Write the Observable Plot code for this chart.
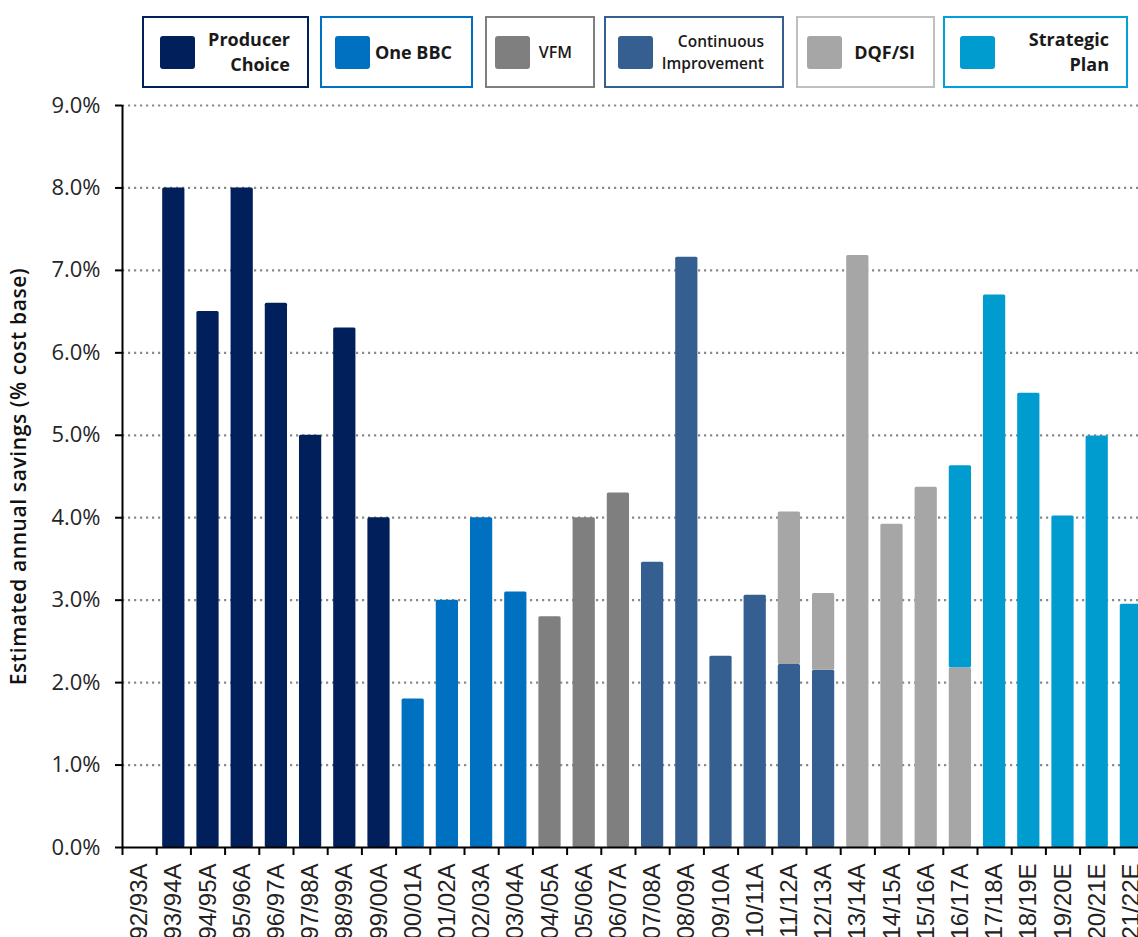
<!DOCTYPE html>
<html>
<head>
<meta charset="utf-8">
<script src="https://cdn.jsdelivr.net/npm/d3@7"></script>
<script src="https://cdn.jsdelivr.net/npm/@observablehq/plot@0.6"></script>
<style>
  body { margin: 0; background: #fff; overflow: hidden; }
  #legend { position: relative; width: 1138px; height: 90px; font-family: "Open Sans", sans-serif; }
  .box { position: absolute; top: 16px; height: 72px; box-sizing: border-box; border: 2px solid; display: flex; align-items: center; }
  .sw { width: 35px; height: 33px; border-radius: 3px; flex: none; }
  .lab { flex: 1; text-align: right; color: #1a1a1a; white-space: nowrap; }
  #chart svg { display: block; }
</style>
</head>
<body>
<div id="legend"></div>
<div id="chart"></div>
<script>
// ---- data ----
const years = ["92/93A","93/94A","94/95A","95/96A","96/97A","97/98A","98/99A","99/00A","00/01A","01/02A",
               "02/03A","03/04A","04/05A","05/06A","06/07A","07/08A","08/09A","09/10A","10/11A","11/12A",
               "12/13A","13/14A","14/15A","15/16A","16/17A","17/18A","18/19E","19/20E","20/21E","21/22E"];
const programmes = ["Producer Choice", "One BBC", "VFM", "Continuous Improvement", "DQF/SI", "Strategic Plan"];
const legendLabels = [["Producer", "Choice"], ["One BBC"], ["VFM"], ["Continuous", "Improvement"], ["DQF/SI"], ["Strategic", "Plan"]];
const programmeColours = ["#001F5B", "#0070C0", "#7F7F7F", "#365F91", "#A6A6A6", "#009BCF"];
const legendBorders = ["#001F5B", "#0070C0", "#7F7F7F", "#365F91", "#BFBFBF", "#00A0D8"];

// segment heights (% of cost base), aligned with years
const producerChoice        = [null,8.0,6.5,8.0,6.6,5.0,6.3,4.0,null,null, null,null,null,null,null,null,null,null,null,null, null,null,null,null,null,null,null,null,null,null];
const oneBBC                = [null,null,null,null,null,null,null,null,1.8,3.0, 4.0,3.1,null,null,null,null,null,null,null,null, null,null,null,null,null,null,null,null,null,null];
const vfm                   = [null,null,null,null,null,null,null,null,null,null, null,null,2.8,4.0,4.3,null,null,null,null,null, null,null,null,null,null,null,null,null,null,null];
const continuousImprovement = [null,null,null,null,null,null,null,null,null,null, null,null,null,null,null,3.46,7.16,2.32,3.06,2.22, 2.15,null,null,null,null,null,null,null,null,null];
const dqfSI                 = [null,null,null,null,null,null,null,null,null,null, null,null,null,null,null,null,null,null,null,1.85, 0.93,7.18,3.92,4.37,2.18,null,null,null,null,null];
const strategicPlan         = [null,null,null,null,null,null,null,null,null,null, null,null,null,null,null,null,null,null,null,null, null,null,null,null,2.45,6.70,5.51,4.02,4.99,2.95];

const yTicks = [0, 1, 2, 3, 4, 5, 6, 7, 8, 9];
const yTitle = "Estimated annual savings (% cost base)";

const seriesValues = [producerChoice, oneBBC, vfm, continuousImprovement, dqfSI, strategicPlan];
const rows = [];
seriesValues.forEach((vals, p) => {
  vals.forEach((v, i) => { if (v != null) rows.push({year: years[i], programme: programmes[p], value: v}); });
});

// ---- legend ----
const legendLayout = [
  {left: 142, width: 167, pad: 16, right: 17, size: 18, weight: 700, lh: 25},
  {left: 320, width: 153, pad: 13, right: 19, size: 18, weight: 700, lh: 25},
  {left: 485, width: 110, pad: 8,  right: 21, size: 16, weight: 600, lh: 25},
  {left: 604, width: 180, pad: 12, right: 18, size: 15.5, weight: 600, lh: 22},
  {left: 796, width: 139, pad: 9,  right: 18, size: 18, weight: 700, lh: 25},
  {left: 943, width: 185, pad: 15, right: 17, size: 18, weight: 700, lh: 25}
];
const legend = d3.select("#legend");
programmes.forEach((p, i) => {
  const L = legendLayout[i];
  const box = legend.append("div").attr("class", "box")
    .style("left", L.left + "px").style("width", L.width + "px")
    .style("border-color", legendBorders[i]);
  box.append("div").attr("class", "sw").style("margin-left", L.pad + "px").style("background", programmeColours[i]);
  const lab = box.append("div").attr("class", "lab")
    .style("padding-right", L.right + "px").style("font-size", L.size + "px")
    .style("font-weight", L.weight).style("line-height", L.lh + "px");
  lab.html(legendLabels[i].join("<br>"));
});

// ---- chart ----
const xRange = [122, 1148];
const step = (xRange[1] - xRange[0]) / years.length;

const chart = Plot.plot({
  width: 1138,
  height: 847,
  marginTop: 15,
  marginBottom: 90,
  marginLeft: 122,
  marginRight: 0,
  style: {background: "white", overflow: "hidden", fontFamily: "'Open Sans', sans-serif"},
  x: {domain: years, range: xRange, paddingInner: 0.35, paddingOuter: 0.175, round: false, axis: null},
  y: {domain: [0, 9], axis: null},
  color: {domain: programmes, range: programmeColours},
  marks: [
    Plot.ruleY(yTicks.filter(d => d > 0), {stroke: "#8a8a8a", strokeWidth: 2.2, strokeDasharray: "2.2,3.8"}),
    Plot.barY(rows, Plot.stackY({x: "year", y: "value", fill: "programme", rx: 1.5})),
    Plot.ruleY([0], {stroke: "black", strokeWidth: 2}),
    Plot.ruleX([years[0]], {y1: 0, y2: 9, dx: -step / 2, stroke: "black", strokeWidth: 2}),
    Plot.ruleX(years, {y1: 0, y2: 0, insetBottom: -8, dx: -step / 2, stroke: "black", strokeWidth: 2}),
    Plot.axisY({
      ticks: yTicks, tickSize: 7, tickPadding: 15, label: null,
      tickFormat: d => d.toFixed(1) + "%",
      fontSize: 22, fill: "#262626", stroke: "black", strokeWidth: 2
    }),
    Plot.axisX({
      tickSize: 0, tickRotate: -90, tickPadding: 16, label: null,
      fontSize: 24, fill: "#222", fontFamily: "'Liberation Sans', Arial, sans-serif"
    }),
    Plot.text([yTitle], {
      text: d => d, frameAnchor: "left", rotate: -90, dx: -103, textAnchor: "middle",
      fontSize: 21, fontWeight: 600, fill: "#111"
    })
  ]
});
document.getElementById("chart").appendChild(chart);
d3.select(chart).selectAll("text").filter(function() { return this.textContent === yTitle; })
  .style("letter-spacing", "0.6px");
</script>
</body>
</html>
